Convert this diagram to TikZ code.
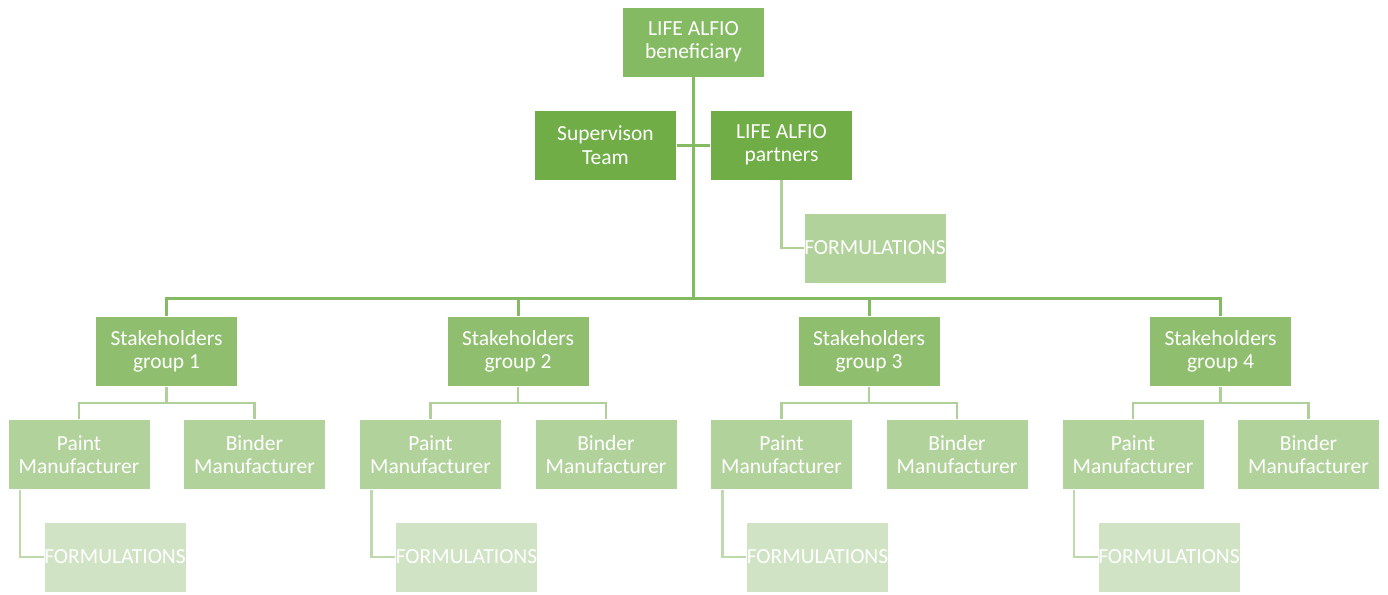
\documentclass[tikz,border=0pt]{standalone}
\usepackage{fontspec}
\setmainfont{Carlito}
\definecolor{ctop}{RGB}{132,186,98}
\definecolor{cmid}{RGB}{112,173,71}
\definecolor{cstake}{RGB}{143,191,110}
\definecolor{cpaint}{RGB}{178,210,155}
\definecolor{cform}{RGB}{209,227,197}
\definecolor{lmain}{RGB}{132,186,98}
\definecolor{lsub}{RGB}{175,208,152}
\definecolor{lform}{RGB}{190,217,172}
\tikzset{
  box/.style={draw=white, line width=0.8pt, minimum width=142pt, minimum height=70pt, inner sep=0pt,
    text=white, font=\fontsize{21.5pt}{23.5pt}\selectfont, align=center},
  topbox/.style={box, fill=ctop},
  midbox/.style={box, fill=cmid},
  stakebox/.style={box, fill=cstake},
  paintbox/.style={box, fill=cpaint},
  formbox/.style={box, fill=cform},
  mainline/.style={draw=lmain, line width=3pt},
  subline/.style={draw=lsub, line width=2.5pt},
  formline/.style={draw=lform, line width=2.5pt},
}
\begin{document}
\begin{tikzpicture}[x=1pt,y=-1pt]
\useasboundingbox (0,0) rectangle (1388,594);
\node[topbox] (top) at (693.5,42) {LIFE ALFIO\\beneficiary};
\node[midbox] (sup) at (605.5,145) {Supervison\\Team};
\node[midbox] (part) at (781.5,145) {LIFE ALFIO\\partners};
\node[paintbox] (pform) at (875,248) {FORMULATIONS};
\coordinate (bus) at (693.5,298);
\draw[mainline] (top.south) -- (bus);
\draw[mainline] (sup.east) -- (part.west);
\draw[formline, draw=lsub] (part.south) |- (pform.west);
\foreach \i/\cx in {1/166.5,2/518,3/869,4/1220.5}{
  \node[stakebox] (s\i) at (\cx,351.5) {Stakeholders\\group \i};
  \node[paintbox] (p\i) at (\cx-87.5,454.5) {Paint\\Manufacturer};
  \node[paintbox] (b\i) at (\cx+88,454.5) {Binder\\Manufacturer};
  \node[formbox] (f\i) at (\cx-51.5,557) {FORMULATIONS};
  \coordinate (j\i) at (\cx,403);
  \draw[subline] (s\i.south) -- (j\i);
  \draw[subline] (p\i.north) |- (j\i) -| (b\i.north);
  \draw[formline] ([xshift=-59pt]p\i.south) |- (f\i.west);
}
\draw[mainline] (s1.north) |- (bus) -| (s4.north);
\draw[mainline] (s2.north) |- (bus);
\draw[mainline] (s3.north) |- (bus);
\end{tikzpicture}
\end{document}
